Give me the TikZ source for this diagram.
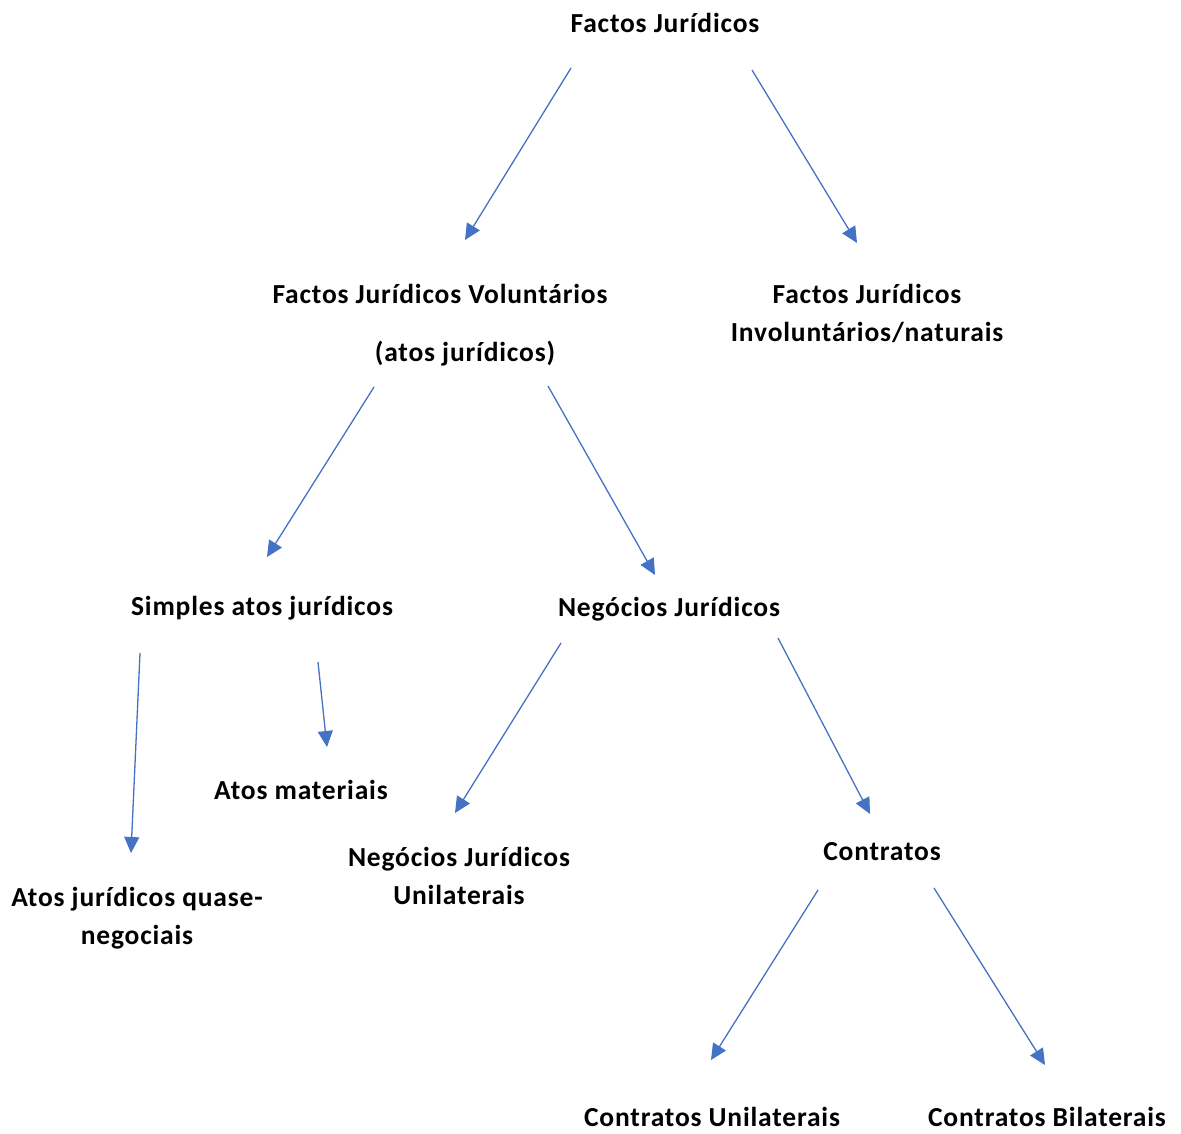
\documentclass[tikz,border=0pt]{standalone}
\usepackage{fontspec}
\setmainfont{Carlito}[LetterSpace=3.0]
\usetikzlibrary{arrows.meta}
\definecolor{arrowblue}{HTML}{4472C4}
\begin{document}
\begin{tikzpicture}[x=1pt,y=-1pt,
  lbl/.style={font=\fontsize{27.5}{38}\selectfont\bfseries, align=center, inner sep=0pt},
  conn/.style={draw=arrowblue, line width=1.3pt, -{Triangle[length=16pt,width=15pt]}, arrowblue}]
\useasboundingbox (0,0) rectangle (1181,1133);
\node[lbl] (fj) at (665,23) {Factos Jurídicos};
\node[lbl] (vol) at (440,294) {Factos Jurídicos Voluntários};
\node[lbl] (atos) at (465,354) {(atos jurídicos)};
\node[lbl] (inv) at (867,313) {Factos Jurídicos\\Involuntários/naturais};
\node[lbl] (saj) at (262,608) {Simples atos jurídicos};
\node[lbl] (nj) at (669,609) {Negócios Jurídicos};
\node[lbl] (am) at (301,790) {Atos materiais};
\node[lbl] (nju) at (459,876) {Negócios Jurídicos\\Unilaterais};
\node[lbl] (ct) at (882,852) {Contratos};
\node[lbl] (ajq) at (137,918) {Atos jurídicos quase-\\negociais};
\node[lbl] (cu) at (712,1117) {Contratos Unilaterais};
\node[lbl] (cb) at (1047,1117) {Contratos Bilaterais};
\coordinate (a1s) at (571,68);  \coordinate (a1e) at (465,240);
\coordinate (a2s) at (752,70);  \coordinate (a2e) at (857,243);
\coordinate (a3s) at (374,387); \coordinate (a3e) at (267,557);
\coordinate (a4s) at (548,386); \coordinate (a4e) at (655,575);
\coordinate (a5s) at (140,653); \coordinate (a5e) at (131,853);
\coordinate (a6s) at (318,662); \coordinate (a6e) at (327,747);
\coordinate (a7s) at (561,643); \coordinate (a7e) at (455,813);
\coordinate (a8s) at (778,638); \coordinate (a8e) at (870,814);
\coordinate (a9s) at (818,890); \coordinate (a9e) at (711,1060);
\coordinate (a10s) at (934,888); \coordinate (a10e) at (1045,1065);
\draw[conn] (a1s) -- (a1e);
\draw[conn] (a2s) -- (a2e);
\draw[conn] (a3s) -- (a3e);
\draw[conn] (a4s) -- (a4e);
\draw[conn] (a5s) -- (a5e);
\draw[conn] (a6s) -- (a6e);
\draw[conn] (a7s) -- (a7e);
\draw[conn] (a8s) -- (a8e);
\draw[conn] (a9s) -- (a9e);
\draw[conn] (a10s) -- (a10e);
\end{tikzpicture}
\end{document}
